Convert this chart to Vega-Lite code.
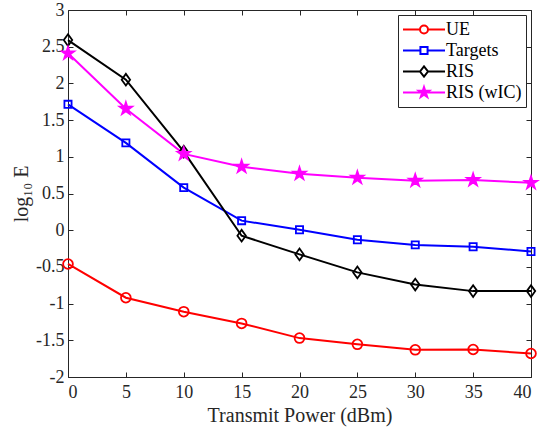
{
  "$schema": "https://vega.github.io/schema/vega-lite/v6.json",
  "width": 463,
  "height": 367,
  "autosize": {"type": "none"},
  "padding": {"left": 68, "top": 10, "right": 9, "bottom": 53},
  "background": "white",
  "config": {
    "view": {"stroke": null},
    "axis": {
      "labelFont": "Liberation Serif",
      "labelFontSize": 18,
      "labelColor": "#262626",
      "titleFont": "Liberation Serif",
      "titleFontSize": 20,
      "titleFontWeight": "normal",
      "titleColor": "#262626",
      "tickColor": "#262626",
      "domainColor": "#262626",
      "tickSize": -5,
      "tickWidth": 1,
      "domainWidth": 1,
      "grid": false
    }
  },
  "data": {
    "values": [
      {"x": 0, "v": -0.46, "s": "UE"},
      {"x": 5, "v": -0.92, "s": "UE"},
      {"x": 10, "v": -1.11, "s": "UE"},
      {"x": 15, "v": -1.27, "s": "UE"},
      {"x": 20, "v": -1.47, "s": "UE"},
      {"x": 25, "v": -1.555, "s": "UE"},
      {"x": 30, "v": -1.63, "s": "UE"},
      {"x": 35, "v": -1.625, "s": "UE"},
      {"x": 40, "v": -1.68, "s": "UE"},
      {"x": 0, "v": 1.715, "s": "Targets"},
      {"x": 5, "v": 1.19, "s": "Targets"},
      {"x": 10, "v": 0.58, "s": "Targets"},
      {"x": 15, "v": 0.13, "s": "Targets"},
      {"x": 20, "v": 0.006, "s": "Targets"},
      {"x": 25, "v": -0.13, "s": "Targets"},
      {"x": 30, "v": -0.2, "s": "Targets"},
      {"x": 35, "v": -0.225, "s": "Targets"},
      {"x": 40, "v": -0.29, "s": "Targets"},
      {"x": 0, "v": 2.59, "s": "RIS"},
      {"x": 5, "v": 2.05, "s": "RIS"},
      {"x": 10, "v": 1.07, "s": "RIS"},
      {"x": 15, "v": -0.075, "s": "RIS"},
      {"x": 20, "v": -0.33, "s": "RIS"},
      {"x": 25, "v": -0.575, "s": "RIS"},
      {"x": 30, "v": -0.74, "s": "RIS"},
      {"x": 35, "v": -0.83, "s": "RIS"},
      {"x": 40, "v": -0.83, "s": "RIS"},
      {"x": 0, "v": 2.41, "s": "RIS (wIC)"},
      {"x": 5, "v": 1.655, "s": "RIS (wIC)"},
      {"x": 10, "v": 1.04, "s": "RIS (wIC)"},
      {"x": 15, "v": 0.865, "s": "RIS (wIC)"},
      {"x": 20, "v": 0.77, "s": "RIS (wIC)"},
      {"x": 25, "v": 0.715, "s": "RIS (wIC)"},
      {"x": 30, "v": 0.675, "s": "RIS (wIC)"},
      {"x": 35, "v": 0.685, "s": "RIS (wIC)"},
      {"x": 40, "v": 0.645, "s": "RIS (wIC)"}
    ]
  },
  "layer": [
    {
      "mark": {"type": "line", "strokeWidth": 2},
      "encoding": {
        "x": {"field": "x", "type": "quantitative",
              "scale": {"domain": [0, 40], "nice": false, "zero": false},
              "axis": {"values": [0, 5, 10, 15, 20, 25, 30, 35, 40], "title": "Transmit Power (dBm)", "labelPadding": 11, "titlePadding": 4, "labelExpr": "'' + datum.value"}},
        "y": {"field": "v", "type": "quantitative",
              "scale": {"domain": [-2, 3], "nice": false, "zero": false},
              "axis": {"values": [-2, -1.5, -1, -0.5, 0, 0.5, 1, 1.5, 2, 2.5, 3], "title": "log₁₀ E", "labelPadding": 9, "titlePadding": 4, "labelExpr": "'' + datum.value"}},
        "stroke": {"field": "s", "type": "nominal", "legend": null,
                   "scale": {"domain": ["UE", "Targets", "RIS", "RIS (wIC)"], "range": ["#ff0000", "#0000ff", "#000000", "#ff00ff"]}},
        "order": {"field": "x", "type": "quantitative"}
      }
    },
    {
      "mark": {"type": "point", "strokeWidth": 1.8, "opacity": 1},
      "encoding": {
        "x": {"field": "x", "type": "quantitative",
              "axis": {"orient": "top", "values": [0, 5, 10, 15, 20, 25, 30, 35, 40], "labels": false, "title": null}},
        "y": {"field": "v", "type": "quantitative",
              "axis": {"orient": "right", "values": [-2, -1.5, -1, -0.5, 0, 0.5, 1, 1.5, 2, 2.5, 3], "labels": false, "title": null}},
        "stroke": {"field": "s", "type": "nominal", "legend": null,
                   "scale": {"domain": ["UE", "Targets", "RIS", "RIS (wIC)"], "range": ["#ff0000", "#0000ff", "#000000", "#ff00ff"]}},
        "fill": {"field": "s", "type": "nominal", "legend": null,
                 "scale": {"domain": ["UE", "Targets", "RIS", "RIS (wIC)"], "range": ["transparent", "transparent", "transparent", "#ff00ff"]}},
        "shape": {"field": "s", "type": "nominal", "legend": null,
                  "scale": {"domain": ["UE", "Targets", "RIS", "RIS (wIC)"],
                            "range": ["M-0.75,0A0.75,0.75 0 1,0 0.75,0A0.75,0.75 0 1,0 -0.75,0Z",
                                      "M-0.55,-0.55H0.55V0.55H-0.55Z",
                                      "M-0.65,0L0,-0.9L0.65,0L0,0.9Z",
                                      "M0,-1L0.2245,-0.309L0.951,-0.309L0.3633,0.118L0.588,0.809L0,0.382L-0.588,0.809L-0.3633,0.118L-0.951,-0.309L-0.2245,-0.309Z"]}},
        "size": {"value": 169}
      }
    },
    {
      "transform": [{"filter": "false"}],
      "mark": {"type": "point", "strokeWidth": 2, "opacity": 1},
      "encoding": {
        "stroke": {"field": "s", "type": "nominal", "title": null,
                   "scale": {"domain": ["UE", "Targets", "RIS", "RIS (wIC)"], "range": ["#ff0000", "#0000ff", "#000000", "#ff00ff"]},
                   "legend": {"orient": "top-right", "offset": 5, "title": null, "symbolSize": 1764, "clipHeight": 21, "symbolStrokeWidth": 2,
                              "labelFont": "Liberation Serif", "labelFontSize": 18, "labelColor": "#000000", "labelOffset": 0,
                              "strokeColor": "#262626", "fillColor": "white", "padding": 4, "rowPadding": 0, "symbolOffset": 0}},
        "fill": {"field": "s", "type": "nominal", "title": null,
                 "scale": {"domain": ["UE", "Targets", "RIS", "RIS (wIC)"], "range": ["transparent", "transparent", "transparent", "#ff00ff"]}},
        "shape": {"field": "s", "type": "nominal", "title": null,
                  "scale": {"domain": ["UE", "Targets", "RIS", "RIS (wIC)"],
                            "range": ["M-1,0H-0.19M0.19,0H1M-0.19,0A0.19,0.19 0 1,0 0.19,0A0.19,0.19 0 1,0 -0.19,0Z",
                                      "M-1,0H-0.17M0.17,0H1M-0.17,-0.17H0.17V0.17H-0.17Z",
                                      "M-1,0H-0.19M0.19,0H1M-0.19,0L0,-0.24L0.19,0L0,0.24Z",
                                      "M-1,0H1M0,-0.26L0.0584,-0.0803L0.2473,-0.0803L0.0945,0.0307L0.1529,0.2103L0,0.0993L-0.1529,0.2103L-0.0945,0.0307L-0.2473,-0.0803L-0.0584,-0.0803Z"]}}
      }
    }
  ],
  "resolve": {
    "scale": {"stroke": "independent", "fill": "independent", "shape": "independent"},
    "axis": {"x": "independent", "y": "independent"}
  }
}
